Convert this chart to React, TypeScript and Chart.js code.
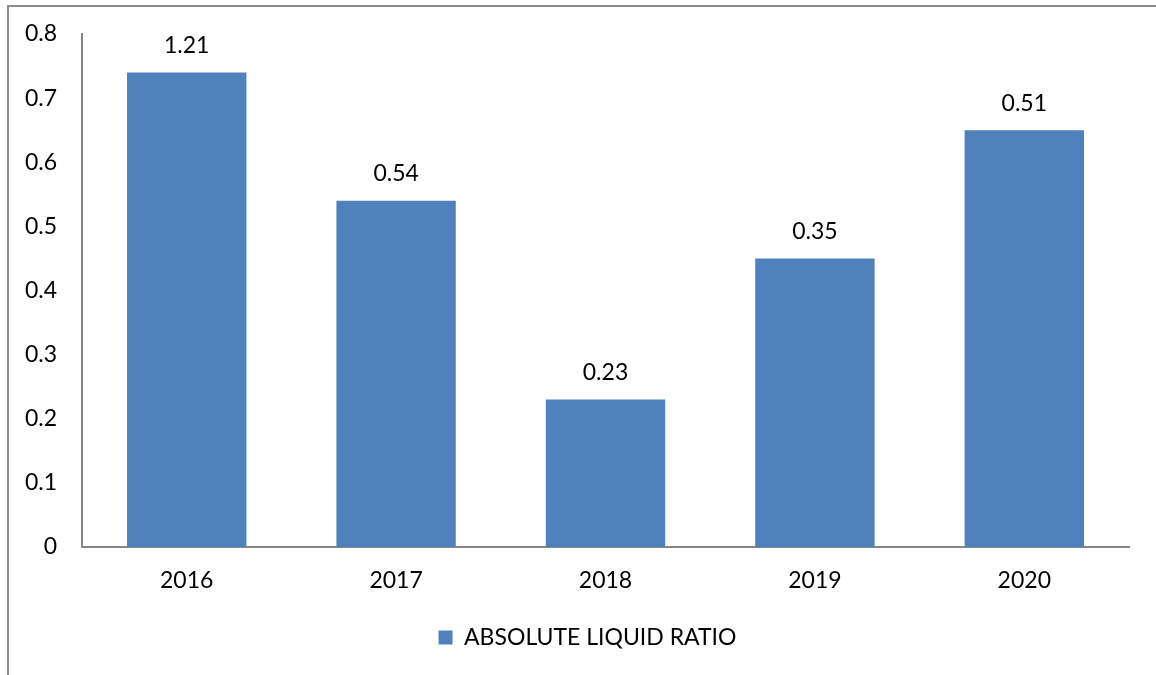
import React, { useEffect, useRef } from "react";
import { Chart, registerables } from "chart.js";

Chart.register(...registerables);

const categories = ["2016", "2017", "2018", "2019", "2020"];
const barValues = [0.74, 0.54, 0.23, 0.45, 0.65];
const dataLabels = ["1.21", "0.54", "0.23", "0.35", "0.51"];
const seriesName = "ABSOLUTE LIQUID RATIO";
const yMin = 0;
const yMax = 0.8;
const yStep = 0.1;

const FONT = "Lato, 'Open Sans', sans-serif";
const FS = 23;

const barLabelPlugin = {
  id: "barLabels",
  afterLayout(chart: any) {
    if (chart.legend) chart.legend.left = 46;
  },
  afterDatasetsDraw(chart: any) {
    const { ctx } = chart;
    const meta = chart.getDatasetMeta(0);
    ctx.save();
    ctx.fillStyle = "#000";
    ctx.font = `${FS}px ${FONT}`;
    ctx.textAlign = "center";
    ctx.textBaseline = "middle";
    meta.data.forEach((bar: any, i: number) => {
      ctx.fillText(dataLabels[i], bar.x, bar.y - 27);
    });
    ctx.restore();
  },
};

export default function App() {
  const ref = useRef<HTMLCanvasElement>(null);
  useEffect(() => {
    if (!ref.current) return;
    const chart = new Chart(ref.current, {
      type: "bar",
      data: {
        labels: categories,
        datasets: [
          {
            label: seriesName,
            data: barValues,
            backgroundColor: "#4F81BD",
            borderWidth: 0,
            categoryPercentage: 0.57,
            barPercentage: 1,
          },
        ],
      },
      options: {
        animation: false,
        responsive: false,
        maintainAspectRatio: false,
        layout: { padding: { left: 0, right: 27, top: 34, bottom: 16 } },
        plugins: {
          tooltip: { enabled: false },
          legend: {
            position: "bottom",
            labels: {
              color: "#000",
              font: { family: FONT, size: FS },
              boxWidth: 14,
              boxHeight: 14,
              padding: 10,
            },
          },
        },
        scales: {
          x: {
            grid: { display: false, drawTicks: false },
            border: { display: true, color: "#868686", width: 2 },
            ticks: { color: "#000", font: { family: FONT, size: FS }, padding: 20 },
            afterFit: (s: any) => {
              s.height = 69;
              s.paddingLeft = 0;
              s.paddingRight = 0;
            },
          },
          y: {
            min: yMin,
            max: yMax,
            grid: { display: false, drawTicks: false },
            border: { display: true, color: "#868686", width: 2 },
            ticks: {
              stepSize: yStep,
              color: "#000",
              font: { family: FONT, size: FS },
              padding: 25,
              callback: (v: any) => String(parseFloat(Number(v).toFixed(1))),
            },
            afterFit: (s: any) => {
              s.width = 82;
              s.paddingTop = 0;
              s.paddingBottom = 0;
            },
          },
        },
      },
      plugins: [barLabelPlugin],
    });
    return () => chart.destroy();
  }, []);

  return (
    <>
      <div
        style={{
          position: "absolute",
          left: 7,
          top: 5,
          width: 1160,
          height: 680,
          borderTop: "2px solid #8c8c8c",
          borderLeft: "2px solid #8c8c8c",
          boxSizing: "border-box",
        }}
      />
      <canvas
        ref={ref}
        width={1156}
        height={675}
        style={{ position: "absolute", left: 0, top: 0, width: 1156, height: 675 }}
      />
    </>
  );
}
